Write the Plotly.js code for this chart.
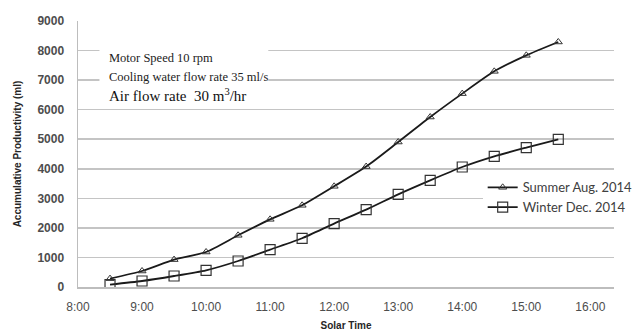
<!DOCTYPE html>
<html>
<head>
<meta charset="utf-8">
<script src="https://cdn.plot.ly/plotly-3.0.1.min.js"></script>
<style>
html,body{margin:0;padding:0;background:#fff;}
#chart{width:638px;height:331px;}
</style>
</head>
<body>
<div id="chart"></div>
<script>
// Solar time of each reading
var times = ["8:30","9:00","9:30","10:00","10:30","11:00","11:30","12:00","12:30","13:00","13:30","14:00","14:30","15:00","15:30"];
// Accumulative productivity (ml)
var summerAug2014 = [284, 541, 927, 1184, 1749, 2290, 2764, 3407, 4075, 4905, 5751, 6543, 7297, 7838, 8290];
var winterDec2014 = [81, 203, 372, 565, 880, 1265, 1648, 2145, 2618, 3136, 3610, 4060, 4421, 4716, 4997];
// x-axis tick labels
var xTickLabels = ["8:00","9:00","10:00","11:00","12:00","13:00","14:00","15:00","16:00"];
var yTickVals = [0,1000,2000,3000,4000,5000,6000,7000,8000,9000];

function toHours(s){ var p = s.split(":"); return parseInt(p[0],10) + parseInt(p[1],10)/60; }
var xHours = times.map(toHours);
var xTickVals = xTickLabels.map(toHours);

var summer = {
  x: xHours, y: summerAug2014, name: "Summer Aug. 2014", type: "scatter", mode: "lines+markers",
  line: {color: "#1a1a1a", width: 1.8, shape: "spline", smoothing: 0.6},
  marker: {symbol: "triangle-up-open", size: 7, color: "#333333", line: {width: 1, color: "#333333"}}
};
var winter = {
  x: xHours, y: winterDec2014, name: "Winter Dec. 2014", type: "scatter", mode: "lines+markers",
  line: {color: "#1a1a1a", width: 1.8, shape: "spline", smoothing: 0.6},
  marker: {symbol: "square-open", size: 10, color: "#333333", line: {width: 1.2, color: "#333333"}}
};

var serif = "'Liberation Serif', 'Times New Roman', serif";
var layout = {
  width: 638, height: 331,
  margin: {l: 78, r: 0, t: 21, b: 44, pad: 0},
  paper_bgcolor: "#ffffff", plot_bgcolor: "#ffffff",
  showlegend: true,
  legend: {
    x: 0.755, y: 0.431, xanchor: "left", yanchor: "top",
    bgcolor: "#ffffff", borderwidth: 0,
    font: {family: "Lato, 'Open Sans', sans-serif", size: 13, color: "#404040"},
    tracegroupgap: 0
  },
  xaxis: {
    range: [8, 16.37], tickvals: xTickVals, ticktext: xTickLabels,
    showgrid: false, zeroline: false, showline: true, linecolor: "#bdbdbd", linewidth: 1.5,
    ticks: "", ticklabelstandoff: 8,
    tickfont: {family: "'Liberation Sans', Arial, sans-serif", size: 12, color: "#4d4d4d"},
    title: {text: "<b>Solar Time</b>", font: {family: "'Liberation Sans', Arial, sans-serif", size: 10, color: "#262626"}, standoff: 9}
  },
  yaxis: {
    range: [0, 9000], tickvals: yTickVals,
    showgrid: true, gridcolor: "#c4c4c4", gridwidth: 1.5, zeroline: false,
    showline: true, linecolor: "#bdbdbd", linewidth: 1.5,
    ticks: "", ticklabelstandoff: 10,
    tickfont: {family: "'Liberation Sans', Arial, sans-serif", size: 12, color: "#4d4d4d", weight: "bold"},
    title: {text: "<b>Accumulative Productivity (ml)</b>", font: {family: "'Liberation Sans', Arial, sans-serif", size: 10, color: "#262626"}, standoff: 14}
  },
  shapes: [
    {type: "rect", xref: "paper", yref: "paper", x0: 0.04, x1: 0.355, y0: 0.685, y1: 0.905,
     fillcolor: "#ffffff", line: {width: 0}, layer: "above"}
  ],
  annotations: [
    {xref: "paper", yref: "paper", x: 0.054, y: 0.862, xanchor: "left", yanchor: "middle", showarrow: false,
     text: "Motor Speed 10 rpm", font: {family: serif, size: 12.5, color: "#222222"}},
    {xref: "paper", yref: "paper", x: 0.054, y: 0.79, xanchor: "left", yanchor: "middle", showarrow: false,
     text: "Cooling water flow rate 35 ml/s", font: {family: serif, size: 12.5, color: "#222222"}},
    {xref: "paper", yref: "paper", x: 0.054, y: 0.72, xanchor: "left", yanchor: "middle", showarrow: false,
     text: "Air flow rate  30 m<sup>3</sup>/hr", font: {family: serif, size: 15, color: "#111111"}}
  ]
};

Plotly.newPlot("chart", [summer, winter], layout, {displayModeBar: false, staticPlot: true});
</script>
</body>
</html>
